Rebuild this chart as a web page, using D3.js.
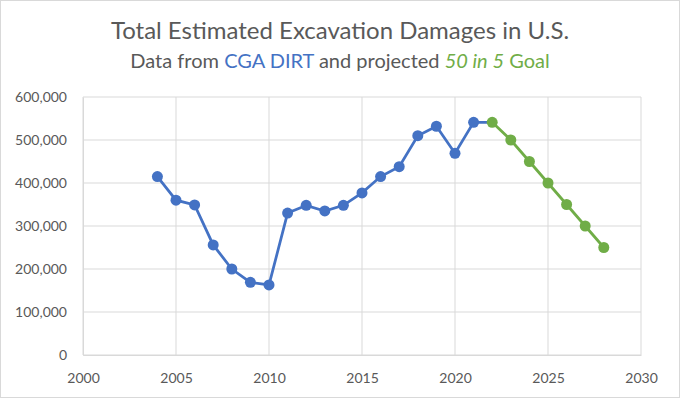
<!DOCTYPE html>
<html><head><meta charset="utf-8">
<script src="https://cdn.jsdelivr.net/npm/d3@7"></script>
<style>body{margin:0;background:#fff;} svg{display:block;}</style>
</head><body>
<svg id="c" width="680" height="400"></svg>
<script>
const actualYears = [2004,2005,2006,2007,2008,2009,2010,2011,2012,2013,2014,2015,2016,2017,2018,2019,2020,2021,2022];
const actualValues = [415000,360000,349000,256000,200000,169000,163000,330000,348000,335000,348000,377000,415000,438000,510000,532000,469000,541000,541000];
const goalYears = [2022,2023,2024,2025,2026,2027,2028];
const goalValues = [541000,500000,450000,400000,350000,300000,250000];
const xTicks = [2000,2005,2010,2015,2020,2025,2030];
const yTicks = [0,100000,200000,300000,400000,500000,600000];

const svg = d3.select("#c");
const font = "Lato, 'Open Sans', sans-serif";
svg.append("rect").attr("x",0.5).attr("y",0.5).attr("width",679).attr("height",397)
  .attr("fill","#fff").attr("stroke","#d9d9d9");

const x = d3.scaleLinear().domain([2000,2030]).range([83,641]);
const y = d3.scaleLinear().domain([0,600000]).range([355,97]);

// grid
svg.append("g").selectAll("line").data(yTicks).join("line")
  .attr("x1",x(2000)).attr("x2",x(2030)).attr("y1",d=>y(d)).attr("y2",d=>y(d))
  .attr("stroke","#d9d9d9").attr("stroke-width",1);
svg.append("g").selectAll("line").data(xTicks).join("line")
  .attr("y1",y(0)).attr("y2",y(600000)).attr("x1",d=>x(d)).attr("x2",d=>x(d))
  .attr("stroke","#d9d9d9").attr("stroke-width",1);

// axes
const ya = svg.append("g").attr("transform",`translate(${x(2000)},0)`)
  .call(d3.axisLeft(y).tickValues(yTicks).tickFormat(d3.format(",")).tickSize(0).tickPadding(16));
const xa = svg.append("g").attr("transform",`translate(0,${y(0)})`)
  .call(d3.axisBottom(x).tickValues(xTicks).tickFormat(d3.format("d")).tickSize(0).tickPadding(18));
[ya,xa].forEach(a=>{
  a.select(".domain").attr("stroke","#d9d9d9");
  a.selectAll("text").attr("fill","#595959").style("font-family",font).style("font-size","14px");
});

const line = d3.line().x(d=>x(d[0])).y(d=>y(d[1]));
const actual = actualYears.map((yr,i)=>[yr,actualValues[i]]);
const goal = goalYears.map((yr,i)=>[yr,goalValues[i]]);

svg.append("path").datum(goal).attr("d",line).attr("fill","none").attr("stroke","#70AD47").attr("stroke-width",2.75);
svg.append("path").datum(actual).attr("d",line).attr("fill","none").attr("stroke","#4472C4").attr("stroke-width",2.75);
svg.append("g").selectAll("circle").data(actual.slice(0,-1)).join("circle")
  .attr("cx",d=>x(d[0])).attr("cy",d=>y(d[1])).attr("r",5.5).attr("fill","#4472C4");
svg.append("g").selectAll("circle").data(goal).join("circle")
  .attr("cx",d=>x(d[0])).attr("cy",d=>y(d[1])).attr("r",5.5).attr("fill","#70AD47");

// titles
svg.append("text").attr("x",340).attr("y",39).attr("text-anchor","middle")
  .attr("fill","#595959").style("font-family",font).style("font-size","24px")
  .text("Total Estimated Excavation Damages in U.S.");
const sub = svg.append("text").attr("x",340).attr("y",68).attr("text-anchor","middle")
  .attr("fill","#595959").style("font-family",font).style("font-size","20px");
sub.append("tspan").text("Data from ");
sub.append("tspan").attr("fill","#4472C4").text("CGA DIRT");
sub.append("tspan").text(" and projected ");
sub.append("tspan").attr("fill","#70AD47").attr("font-style","italic").text("50 in 5");
sub.append("tspan").attr("fill","#70AD47").text(" Goal");
</script>
</body></html>
